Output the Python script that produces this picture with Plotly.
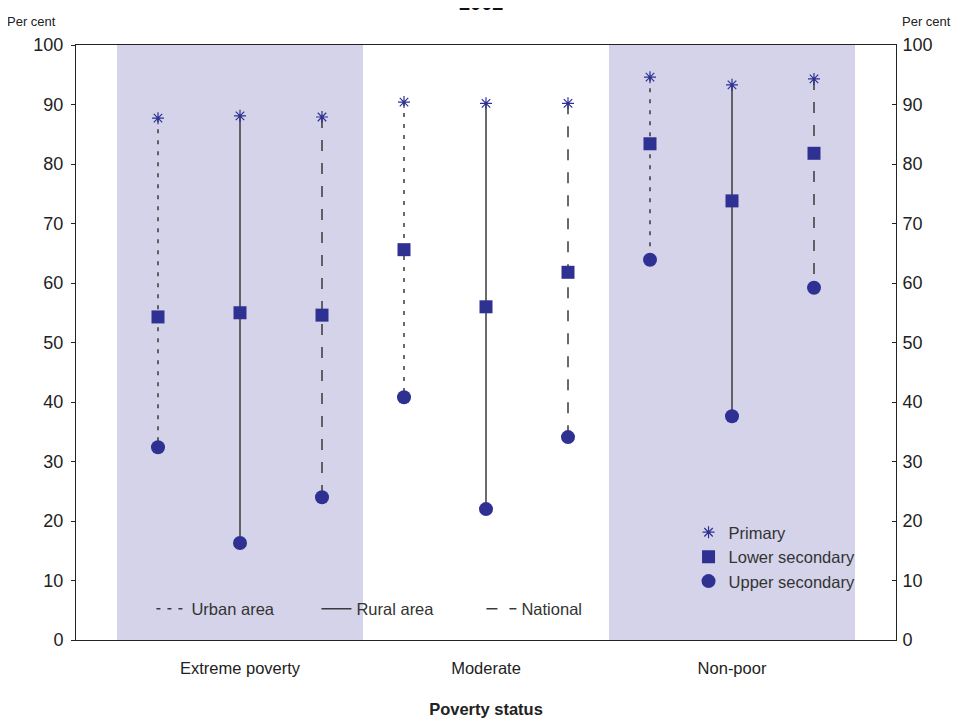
import plotly.graph_objects as go

# ---------------- data ----------------
groups = ["Extreme poverty", "Moderate", "Non-poor"]
areas = ["Urban area", "Rural area", "National"]
# values ordered by group, each with [Urban, Rural, National]
primary = {
    "Extreme poverty": [87.7, 88.1, 87.9],
    "Moderate": [90.4, 90.2, 90.2],
    "Non-poor": [94.6, 93.3, 94.3],
}
lower_secondary = {
    "Extreme poverty": [54.3, 55.0, 54.6],
    "Moderate": [65.6, 56.0, 61.8],
    "Non-poor": [83.4, 73.8, 81.8],
}
upper_secondary = {
    "Extreme poverty": [32.4, 16.3, 24.0],
    "Moderate": [40.8, 22.0, 34.1],
    "Non-poor": [63.9, 37.6, 59.2],
}
y_ticks = [0, 10, 20, 30, 40, 50, 60, 70, 80, 90, 100]

# ---------------- styling ----------------
FONT = "Liberation Sans, Arial, sans-serif"
MARK = "#2E3192"
LINEC = "#3a3a3a"
SHADE = "#D4D3EA"
dashes = {"Urban area": "4px,7px", "Rural area": "solid", "National": "11px,12px"}

# x positions: group g, area a -> 3*g + a + 1
def xpos(g, a):
    return 3 * g + a + 1

fig = go.Figure()

# connecting lines (one trace per area type)
for a, area in enumerate(areas):
    xs, ys = [], []
    for g, grp in enumerate(groups):
        xs += [xpos(g, a), xpos(g, a), None]
        ys += [primary[grp][a], upper_secondary[grp][a], None]
    fig.add_trace(go.Scatter(
        x=xs, y=ys, mode="lines", name=area,
        line=dict(color=LINEC, width=1.5, dash=dashes[area]),
        legend="legend", hoverinfo="skip",
    ))

def series_xy(d):
    xs, ys = [], []
    for g, grp in enumerate(groups):
        for a in range(3):
            xs.append(xpos(g, a))
            ys.append(d[grp][a])
    return xs, ys

x1, y1 = series_xy(primary)
x2, y2 = series_xy(lower_secondary)
x3, y3 = series_xy(upper_secondary)

fig.add_trace(go.Scatter(
    x=x2, y=y2, mode="markers", name="Lower secondary",
    marker=dict(symbol="square", size=13, color=MARK), legend="legend2"))
fig.add_trace(go.Scatter(
    x=x3, y=y3, mode="markers", name="Upper secondary",
    marker=dict(symbol="circle", size=14, color=MARK), legend="legend2"))
fig.add_trace(go.Scatter(
    x=x1, y=y1, mode="markers", name="Primary",
    marker=dict(symbol="asterisk-open", size=10, color=MARK,
                line=dict(color="#3b3fb0", width=1.2)),
    legend="legend2", legendrank=1))
# dummy trace to enable right axis
fig.add_trace(go.Scatter(x=[None], y=[None], yaxis="y2", showlegend=False))

# shaded group backgrounds
for g in (0, 2):
    fig.add_shape(type="rect", xref="x", yref="y",
                  x0=3 * g + 0.5, x1=3 * g + 3.5, y0=0, y1=100,
                  fillcolor=SHADE, line=dict(width=0), layer="below")

fig.update_layout(
    width=955, height=710,
    margin=dict(l=68, r=67, t=37, b=78, autoexpand=False),
    paper_bgcolor="white", plot_bgcolor="white",
    font=dict(family=FONT, color="#222"),
    xaxis=dict(range=[0, 10], tickvals=[2, 5, 8], ticktext=groups,
               ticks="", showgrid=False, zeroline=False, automargin=False,
               showline=True, linecolor="#222", linewidth=1, mirror=True,
               tickfont=dict(size=16.5, color="#222"), ticklabelstandoff=13,
               title=dict(text="<b>Poverty status</b>", font=dict(size=16.5, color="#222"),
                          standoff=27)),
    yaxis=dict(range=[0, 100], tickvals=y_ticks, ticks="outside", ticklen=4,
               tickcolor="#222", showgrid=False, zeroline=False, automargin=False,
               showline=True, linecolor="#222", linewidth=1,
               tickfont=dict(size=18, color="#222"), ticklabelstandoff=4),
    yaxis2=dict(range=[0, 100], tickvals=y_ticks, ticks="inside", ticklen=4,
                tickcolor="#222", overlaying="y", side="right", automargin=False,
                showgrid=False, zeroline=False, showline=True,
                linecolor="#222", linewidth=1,
                tickfont=dict(size=18, color="#222"), ticklabelstandoff=2),
    legend=dict(orientation="h", x=0.092, y=0.052, xanchor="left", yanchor="middle",
                bgcolor="rgba(0,0,0,0)", font=dict(size=16.5, color="#333"),
                entrywidth=120, entrywidthmode="pixels", traceorder="normal"),
    legend2=dict(orientation="v", x=0.747, y=0.1395, xanchor="left", yanchor="middle",
                 bgcolor="rgba(0,0,0,0)", font=dict(size=16.5, color="#333"),
                 traceorder="normal", tracegroupgap=0),
    showlegend=True,
    annotations=[
        dict(text="Per cent", xref="paper", yref="paper", x=-0.0537, y=1.0403,
             xanchor="center", yanchor="middle", showarrow=False,
             font=dict(size=13, color="#222")),
        dict(text="Per cent", xref="paper", yref="paper", x=1.0378, y=1.0403,
             xanchor="center", yanchor="middle", showarrow=False,
             font=dict(size=13, color="#222")),
        dict(text="<b>2002</b>", xref="paper", yref="paper", x=0.495, y=1.07,
             xanchor="center", yanchor="middle", showarrow=False,
             font=dict(size=20, color="#111")),
    ],
)

fig.write_html("out.html")
